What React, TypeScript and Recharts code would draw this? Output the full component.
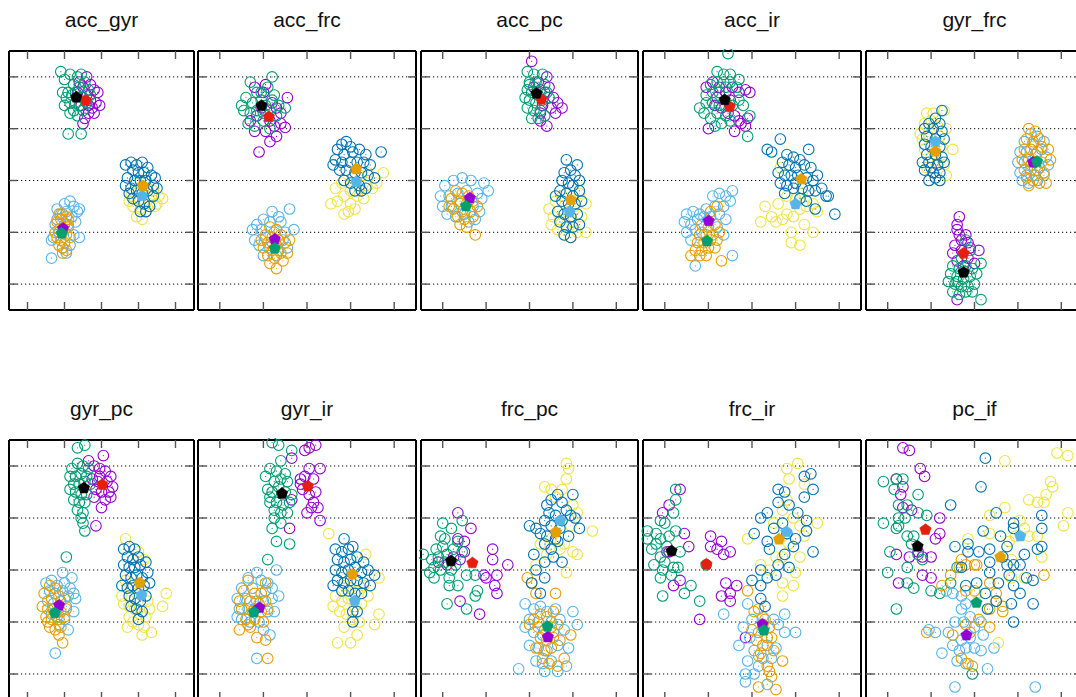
import React from 'react';
import { ScatterChart, Scatter, XAxis, YAxis, CartesianGrid } from 'recharts';

const TICKS = [10, 30, 50, 70, 90];
const TITLES = ['acc_gyr', 'acc_frc', 'acc_pc', 'acc_ir', 'gyr_frc', 'gyr_pc', 'gyr_ir', 'frc_pc', 'frc_ir', 'pc_if'];
const POINT_COLORS = ['#9400d3', '#009e73', '#56b4e9', '#e69f00', '#f0e442', '#0072b2'];
const CENTROID_COLORS = ['#e51e10', '#000000', '#9400d3', '#009e73', '#56b4e9', '#e69f00'];

// ---------- panel 1: acc_gyr ----------
const p1A = [[38,88],[42,90],[44,87],[46,85],[48,84],[47,80],[49,79],[45,78],[43,76],[41,74],[40,72],[39,79],[42,83],[44,81],[46,76],[37,84],[40,86],[43,79]];
const p1B = [[28,92],[30,89],[33,91],[37,90],[39,91],[35,87],[38,86],[41,88],[43,85],[32,84],[34,83],[36,80],[33,80],[31,82],[30,79],[38,79],[40,82],[35,77],[37,75],[33,76],[40,77],[42,80],[32,68],[39,68],[36,84],[44,83],[29,84]];
const p1C = [[30,41],[33,42],[35,40],[37,38],[38,39],[31,38],[28,37],[26,35],[25,33],[27,30],[24,28],[23,27],[34,36],[36,34],[32,33],[29,24],[31,22],[33,25],[23,20],[35,29],[26,39],[38,28]];
const p1D = [[27,37],[29,37],[31,36],[28,35],[26,34],[30,33],[32,32],[27,31],[29,30],[31,29],[26,28],[28,27],[30,26],[27,25],[29,24],[31,23],[33,28],[25,30],[32,35],[29,22]];
const p1E = [[68,49],[72,48],[75,47],[78,46],[81,44],[83,43],[66,44],[68,43],[70,42],[73,42],[76,41],[79,40],[65,42],[67,40],[71,39],[74,38],[72,35],[69,36],[77,44],[80,41]];
const p1F = [[63,56],[66,57],[69,56],[72,57],[75,55],[67,54],[70,53],[73,53],[77,52],[79,51],[64,51],[68,50],[71,50],[74,50],[78,48],[63,48],[66,47],[69,46],[72,45],[75,46],[78,44],[67,43],[70,42],[73,41],[76,40],[71,38],[74,38],[65,45],[80,47]];
const p1Cent = [[41.4,81],[36.4,82.1],[29.2,31.5],[28.5,29.6],[72,44.1],[72.4,47.9]];

// ---------- panel 2: acc_frc ----------
const p2A = [[26,86],[31,87],[30,84],[41,82],[34,80],[36,78],[38,76],[29,78],[27,75],[33,73],[35,71],[40,70.5],[31,69],[26,69],[36,67],[33,65],[28,61],[24,73],[38,72]];
const p2B = [[24,88],[34,90],[32,86],[27,84],[22,82],[25,80],[29,81],[31,79],[34,81],[37,79],[40,78],[21,77],[24,76],[27,77],[30,76],[33,77],[36,75],[23,72],[26,71],[30,73],[33,70],[29,84],[35,83],[20,79]];
const p2C = [[34,38],[37,36],[42,39],[30,35],[27,33],[33,34],[38,34],[44,31],[25,31],[29,31],[35,30],[40,30],[26,27],[31,28],[39,27],[28,25],[33,24],[37,23],[41,24],[30,21],[36,21]];
const p2D = [[33,32],[36,31],[31,29],[34,28],[38,29],[29,27],[32,26],[36,25],[40,26],[42,27],[30,24],[34,23],[38,22],[32,21],[35,20],[39,19],[33,18],[36,16],[37,27],[41,22]];
const p2E = [[61,41],[64,42],[67,37],[69,38],[72,39],[67,44],[70,46],[74,47],[77,48],[80,47],[82,49],[85,53],[66,49],[71,51],[75,52],[78,53],[63,47],[73,44],[76,43],[70,41]];
const p2F = [[66,64],[68,65],[70,63],[64,62],[67,60],[71,61],[74,62],[77,60],[84,61],[63,58],[66,57],[70,57],[73,57],[76,57],[79,56],[65,54],[68,54],[72,53],[75,53],[78,52],[81,51],[67,50],[70,49],[74,48],[77,47],[72,46],[75,46],[62,56]];
const p2Cent = [[32.5,74.6],[29.1,78.9],[35.2,27.3],[35.2,23.8],[72.6,49.5],[72.6,54.4]];

// ---------- panel 3: acc_pc ----------
const p3A = [[51,96],[60,78],[65,78],[55,73],[58,71],[62,76],[57,84],[59,86],[54,88],[61,82],[56,79],[52,86],[58,90],[63,80],[55,76]];
const p3B = [[49,92],[52,91],[56,91],[50,88],[53,88],[57,87],[49,85],[51,84],[55,85],[58,84],[50,81],[53,80],[56,81],[59,82],[49,78],[52,77],[55,77],[51,74],[54,74],[57,75],[50,87],[54,83],[48,82]];
const p3C = [[11,48],[15,50],[19,51],[23,50],[29,49],[31,46],[9,44],[13,44],[17,45],[21,46],[26,45],[28,43],[10,40],[14,40],[18,41],[24,40],[27,38],[12,37],[16,36],[20,37],[25,35],[22,34]];
const p3D = [[16,46],[19,45],[22,44],[14,43],[18,42],[21,41],[24,42],[15,39],[19,38],[23,38],[17,36],[20,35],[24,36],[18,33],[21,32],[25,29],[13,40],[26,40]];
const p3E = [[59,39],[62,42],[65,44],[73,45],[76,41],[61,36],[64,35],[67,33],[70,34],[74,36],[76,30],[63,31],[66,29],[69,28],[72,30],[68,38],[71,40],[60,33]];
const p3F = [[67,58],[72,56],[66,53],[69,54],[71,52],[65,50],[68,49],[70,48],[73,50],[64,46],[67,45],[70,44],[73,46],[65,42],[68,41],[71,41],[74,42],[63,38],[66,37],[69,36],[72,37],[64,34],[67,32],[70,32],[66,29],[69,28],[73,33],[62,44]];
const p3Cent = [[55.5,81.3],[53.2,83.6],[22.5,43.2],[20.7,40.1],[68.5,38],[69,42.5]];

// ---------- panel 4: acc_ir ----------
const p4A = [[29,86],[32,88],[35,86],[38,84],[41,86],[44,84],[47,85],[49,84],[30,70],[33,79],[36,78],[39,76],[42,75],[44,73],[47,71],[42,69],[45,72],[48,74],[40,81],[34,82]];
const p4B = [[39,99],[34,92],[37,91],[40,91],[44,89],[31,87],[34,88],[37,88],[40,88],[43,86],[29,83],[32,84],[35,84],[38,86],[26,78],[29,80],[32,80],[35,79],[41,79],[44,81],[46,79],[28,76],[31,74],[34,76],[36,72],[38,75],[49,75],[48,67],[33,71],[40,73]];
const p4C = [[41,46],[32,44],[35,45],[38,44],[40,42],[20,37],[23,38],[26,37],[29,39],[33,40],[37,40],[19,34],[22,33],[25,35],[28,36],[31,36],[35,37],[38,35],[20,30],[24,31],[27,30],[34,32],[41,21],[24,17],[22,27],[37,29]];
const p4D = [[34,40],[31,38],[27,33],[30,32],[33,33],[26,29],[29,29],[32,29],[35,30],[25,26],[28,26],[31,27],[34,27],[24,23],[27,23],[30,24],[33,24],[22,21],[26,21],[29,21],[36,19]];
const p4E = [[63,55],[56,40],[54,34],[62,41],[68,30],[72,25],[68,26],[78,30],[59,36],[61,34],[64,35],[66,37],[69,36],[72,39],[75,40],[78,41],[80,38],[70,43],[73,45],[76,46],[66,44],[74,33]];
const p4F = [[63,66],[57,62],[59,61],[76,62],[66,60],[69,59],[72,58],[64,57],[67,56],[70,55],[74,56],[77,55],[62,53],[65,52],[68,52],[71,52],[75,51],[78,50],[80,52],[63,49],[66,48],[69,47],[73,47],[76,46],[79,46],[82,47],[84,44],[72,43],[75,42],[79,39],[85,44],[88,37],[65,45],[70,49]];
const p4Cent = [[39.8,78.5],[37.5,81.1],[30.1,34.4],[29.4,26.6],[70,40.9],[72.6,50.5]];

// ---------- panel 5: gyr_frc ----------
const p5A = [[43,36],[42,33],[42,31],[43,29],[44,27],[41,25],[47,26],[52,23],[40,22],[44,23],[47,20],[50,18],[42,19],[45,17],[42,4],[48,24],[46,29]];
const p5B = [[46,27],[48,23],[44,20],[53,18],[40,17],[43,16],[46,17],[49,16],[39,14],[42,13],[45,12],[48,13],[51,14],[38,11],[41,10],[44,9],[47,9],[50,10],[40,7],[43,6],[46,7],[49,7],[53,4],[45,15],[42,11]];
const p5C = [[76,68],[79,67],[82,65],[73,65],[77,64],[81,62],[71,61],[74,61],[78,60],[83,59],[70,57],[73,57],[76,56],[80,55],[84,56],[71,53],[74,52],[78,52],[82,52],[75,49],[79,50],[72,50]];
const p5D = [[75,70],[78,69],[80,66],[74,66],[77,65],[81,63],[73,62],[76,62],[79,61],[84,62],[72,58],[75,58],[78,57],[81,57],[85,58],[73,54],[76,54],[79,54],[82,53],[74,51],[77,50],[80,49],[75,48],[83,49]];
const p5E = [[36,77],[28,76],[31,76],[25,68],[37,70],[40,62],[37,52],[27,72],[30,73],[33,71],[26,66],[29,67],[34,67],[27,62],[35,63],[30,59],[33,57],[28,55],[36,56],[31,53]];
const p5F = [[35,77],[32,74],[29,72],[34,72],[27,70],[31,70],[35,69],[28,67],[32,66],[36,66],[27,64],[30,63],[34,63],[28,60],[32,60],[35,59],[26,57],[29,57],[33,56],[36,57],[27,54],[31,53],[34,53],[29,50],[34,50],[30,55],[32,51]];
const p5Cent = [[45,21.9],[45,14.5],[77,57],[78.8,57.3],[32,65],[32,61.2]];

// ---------- panel 6: gyr_pc ----------
const p6A = [[51,94],[43,92],[46,90],[49,89],[52,88],[55,86],[45,85],[48,84],[53,84],[56,82],[47,81],[50,80],[54,80],[55,78],[46,78],[52,77],[50,74],[47,67],[49,86]];
const p6B = [[37,97],[41,98],[34,89],[37,91],[40,90],[43,89],[33,86],[36,86],[39,87],[42,86],[35,83],[38,83],[41,84],[44,83],[33,81],[36,80],[39,79],[42,79],[35,77],[38,76],[41,76],[37,73],[40,72],[39,70],[40,68],[41,65],[31,55]];
const p6C = [[29,49],[34,47],[20,45],[23,46],[26,44],[30,45],[33,43],[22,42],[25,41],[29,42],[32,40],[35,41],[21,38],[24,37],[28,38],[31,36],[35,34],[23,33],[26,32],[30,31],[32,27],[25,18],[36,39],[27,29]];
const p6D = [[22,44],[25,43],[19,41],[23,39],[27,40],[30,39],[18,36],[21,35],[24,35],[28,34],[31,35],[20,32],[23,31],[27,31],[30,32],[22,28],[25,27],[28,28],[27,25],[29,22],[21,30]];
const p6E = [[63,62],[70,57],[73,54],[85,41],[83,36],[77,26],[72,25],[64,28],[63,46],[66,43],[69,41],[72,42],[75,38],[62,37],[65,36],[68,35],[71,33],[74,32],[67,30],[70,29],[73,28],[76,35],[61,40],[65,32]];
const p6F = [[62,58],[65,59],[68,58],[64,55],[67,54],[70,55],[62,52],[65,51],[68,51],[71,52],[74,53],[63,48],[66,47],[69,48],[72,47],[75,49],[61,44],[64,43],[67,44],[70,43],[73,44],[76,45],[65,40],[68,39],[71,38],[74,40],[66,36],[69,35],[72,34],[70,31]];
const p6Cent = [[50.4,82.8],[40.5,81.5],[27.1,36.4],[24.8,33.5],[71.6,40.3],[70.7,45]];

// ---------- panel 7: gyr_ir ----------
const p7A = [[49,96],[51,97],[54,98],[43,93],[51,89],[56,89],[47,85],[49,86],[53,85],[54,80],[51,79],[48,81],[53,76],[55,74],[52,74],[50,72],[56,69],[42,66],[43,77],[47,83]];
const p7B = [[34,99],[37,98],[43,96],[38,92],[31,86],[40,87],[33,89],[36,88],[35,84],[38,85],[41,84],[32,81],[34,80],[37,82],[40,80],[43,79],[33,76],[36,76],[39,75],[42,76],[35,73],[38,72],[35,70],[38,68],[34,66],[36,61],[42,60],[32,54],[33,78],[41,72]];
const p7C = [[27,49],[36,50],[37,40],[23,47],[29,46],[32,45],[20,43],[25,43],[31,42],[34,43],[18,39],[22,39],[27,38],[30,38],[34,39],[19,35],[23,35],[26,35],[32,34],[35,34],[20,31],[24,30],[28,30],[33,25],[27,16],[18,32],[30,27]];
const p7D = [[23,46],[31,45],[21,42],[26,41],[29,41],[19,38],[24,38],[28,37],[31,38],[20,35],[25,34],[29,34],[32,35],[22,31],[26,31],[30,30],[19,27],[24,28],[27,24],[31,23],[32,16],[23,29]];
const p7E = [[60,64],[77,56],[83,47],[83,33],[81,29],[64,22],[70,22],[73,25],[64,46],[67,44],[70,43],[73,42],[76,44],[63,40],[66,38],[69,39],[72,36],[75,37],[78,40],[65,34],[68,33],[71,31],[74,30],[67,28],[62,36]];
const p7F = [[67,62],[63,58],[66,57],[69,58],[71,59],[64,54],[67,53],[70,54],[73,55],[76,53],[63,50],[66,49],[69,50],[72,51],[75,49],[78,50],[81,48],[64,46],[67,45],[70,46],[73,46],[76,45],[79,44],[66,42],[69,42],[72,41],[75,41],[71,34],[73,34],[71,30],[62,44]];
const p7Cent = [[50.4,82.2],[38.5,79.4],[28.2,35.5],[25.6,33.8],[71.9,38.1],[70.8,48.3]];

// ---------- panel 8: frc_pc ----------
const p8A = [[17,72],[23,66],[17,62],[20,61],[20,57],[8,53],[18,54],[33,58],[33,54],[40,52],[29,48],[30,47],[35,48],[34,44],[35,41],[18,38],[27,33],[12,52],[15,55]];
const p8B = [[1,56],[10,68],[19,69],[9,63],[14,66],[7,58],[19,57],[10,59],[12,56],[15,58],[5,54],[8,55],[11,53],[16,52],[6,51],[9,50],[14,50],[4,49],[6,47],[13,47],[13,44],[17,44],[21,48],[25,48],[26,42],[25,40],[12,37],[21,35],[17,61],[11,62]];
const p8C = [[45,12],[48,37],[70,34],[72,29],[68,20],[63,11],[57,11],[67,13],[52,35],[55,36],[58,34],[62,35],[50,31],[54,30],[60,30],[64,31],[52,26],[56,25],[61,26],[66,27],[50,21],[54,20],[58,19],[63,21],[53,15],[56,14],[60,15],[48,28]];
const p8D = [[49,47],[51,45],[53,41],[62,41],[69,25],[66,16],[63,13],[52,31],[50,29],[55,33],[58,32],[61,34],[54,28],[57,27],[60,28],[63,29],[55,24],[58,23],[61,24],[64,23],[53,20],[57,19],[60,20],[56,16],[59,14]];
const p8E = [[67,91],[68,89],[67,85],[57,82],[60,81],[65,81],[79,65],[70,57],[72,56],[67,49],[55,60],[53,52],[62,78],[70,75],[72,72],[60,62],[66,60],[58,56],[64,58],[69,67]];
const p8F = [[50,67],[53,66],[58,75],[63,79],[70,79],[71,70],[73,66],[68,63],[57,60],[52,56],[61,55],[57,53],[65,53],[57,47],[55,41],[51,45],[53,50],[60,77],[65,76],[67,73],[59,72],[62,71],[65,69],[69,71],[57,69],[60,67],[64,66],[58,63],[62,62],[55,64],[60,58],[63,61]];
const p8Cent = [[23.7,52.7],[13.8,53.5],[58.5,24.2],[58.3,28.3],[64.2,69.1],[62.2,64.6]];

// ---------- panel 9: frc_ir ----------
const p9A = [[17,81],[12,75],[9,72],[19,64],[21,59],[12,57],[31,63],[36,61],[31,59],[34,58],[37,56],[40,57],[17,46],[14,44],[38,45],[43,44],[36,40],[40,41],[40,38],[26,31],[47,24],[11,57]];
const p9B = [[15,81],[15,77],[14,72],[8,69],[10,68],[2,65],[2,62],[6,64],[8,62],[12,63],[15,65],[6,60],[11,59],[17,57],[8,55],[5,52],[9,50],[8,47],[13,48],[14,51],[16,51],[9,40],[19,41],[22,44],[26,38],[29,52],[4,58],[10,53]];
const p9C = [[37,33],[48,37],[46,28],[44,21],[65,33],[70,26],[65,26],[47,10],[47,7],[51,10],[57,6],[53,26],[50,31],[55,32],[60,31],[62,29],[49,24],[57,21],[61,20],[51,19],[55,16],[59,16],[53,13],[48,15]];
const p9D = [[48,42],[51,34],[53,35],[52,23],[57,24],[59,24],[54,18],[53,17],[57,13],[64,15],[59,9],[53,5],[61,4],[55,29],[58,28],[56,31],[50,27],[60,19],[55,21],[58,11]];
const p9E = [[71,91],[66,89],[67,85],[74,83],[66,77],[64,73],[80,68],[74,63],[48,62],[61,55],[64,55],[72,55],[64,45],[69,44],[64,40],[54,52],[69,70],[72,67],[60,68],[67,60],[58,50],[70,49]];
const p9F = [[74,86],[77,87],[74,78],[78,81],[62,81],[65,80],[62,76],[67,75],[71,72],[57,72],[54,70],[75,69],[75,65],[51,64],[57,61],[69,59],[78,57],[54,50],[57,47],[61,48],[67,51],[50,46],[54,44],[54,39],[56,36],[60,66],[64,68],[66,64],[58,58],[62,52],[65,56],[70,62]];
const p9Cent = [[29.1,52.2],[13.1,57.3],[54.8,29.1],[55.4,26.8],[65.8,64.7],[62.4,61.8]];

// ---------- panel 10: pc_if ----------
const p10A = [[17,97],[20,96],[25,89],[27,86],[14,85],[17,82],[16,79],[17,74],[21,73],[34,70],[34,64],[32,62],[14,56],[26,55],[30,55],[26,48],[30,47],[15,45],[24,57],[20,55]];
const p10B = [[8,84],[14,85],[17,85],[13,81],[24,79],[15,75],[19,75],[15,70],[18,70],[28,71],[24,72],[8,68],[14,66],[15,67],[19,63],[22,63],[21,60],[11,57],[24,56],[26,54],[19,51],[10,49],[19,45],[22,43],[30,42],[34,41],[14,35],[39,45],[42,51],[49,10]];
const p10C = [[37,42],[40,41],[44,40],[46,37],[44,35],[41,30],[45,30],[50,28],[53,30],[54,25],[48,24],[44,23],[40,21],[43,19],[46,20],[50,20],[53,19],[59,20],[35,18],[29,27],[32,26],[56,12],[41,5],[78,5],[42,15],[46,14],[48,32],[38,26]];
const p10D = [[44,54],[46,52],[50,52],[51,52],[43,51],[39,48],[35,44],[46,42],[50,42],[57,45],[60,41],[60,38],[63,36],[63,34],[57,35],[52,31],[57,28],[46,29],[48,26],[40,25],[28,26],[82,48],[47,14],[49,13],[44,16]];
const p10E = [[64,92],[88,95],[93,94],[85,84],[86,82],[83,79],[82,76],[75,77],[79,76],[93,72],[91,67],[64,74],[57,71],[71,69],[73,66],[75,63],[79,63],[69,63],[66,61],[57,64],[47,62],[81,55],[67,54],[67,47],[73,47],[61,22],[51,41]];
const p10F = [[55,93],[53,82],[39,75],[60,72],[81,71],[68,68],[68,66],[54,65],[62,63],[65,59],[81,66],[81,59],[79,58],[41,59],[47,60],[47,57],[52,57],[57,58],[57,53],[65,52],[68,52],[71,52],[73,56],[44,51],[57,49],[61,45],[74,47],[77,46],[68,44],[71,41],[77,37],[67,37],[60,38],[56,35],[51,45],[55,41],[68,30],[46,44],[63,55],[66,48]];
const p10Cent = [[27.4,65.5],[23.8,59.1],[46.3,24.9],[50.9,37.4],[71.1,63],[61.9,55]];

const PANEL_SERIES = [
  [p1A, p1B, p1C, p1D, p1E, p1F],
  [p2A, p2B, p2C, p2D, p2E, p2F],
  [p3A, p3B, p3C, p3D, p3E, p3F],
  [p4A, p4B, p4C, p4D, p4E, p4F],
  [p5A, p5B, p5C, p5D, p5E, p5F],
  [p6A, p6B, p6C, p6D, p6E, p6F],
  [p7A, p7B, p7C, p7D, p7E, p7F],
  [p8A, p8B, p8C, p8D, p8E, p8F],
  [p9A, p9B, p9C, p9D, p9E, p9F],
  [p10A, p10B, p10C, p10D, p10E, p10F],
];
const PANEL_CENTROIDS = [p1Cent, p2Cent, p3Cent, p4Cent, p5Cent, p6Cent, p7Cent, p8Cent, p9Cent, p10Cent];

// layout (pixels)
const COL_LEFT = [9, 198, 421, 643, 866];
const COL_WIDTH = [185, 218, 217, 218, 217];
const ROW_TOP = [51, 440];
const ROW_HEIGHT = [259, 260];

const toObjs = (arr: number[][]) => arr.map(([x, y]) => ({ x, y }));

const makeRing = (color: string) => (props: any) => {
  const { cx, cy } = props;
  if (cx == null || cy == null) return <g />;
  return (
    <g>
      <circle cx={cx} cy={cy} r={5.3} fill="none" stroke={color} strokeWidth={1.1} />
      <circle cx={cx} cy={cy} r={0.6} fill={color} />
    </g>
  );
};

const makePentagon = (color: string) => (props: any) => {
  const { cx, cy } = props;
  if (cx == null || cy == null) return <g />;
  const r = 6;
  const pts: string[] = [];
  for (let k = 0; k < 5; k++) {
    const a = (-90 + k * 72) * Math.PI / 180;
    pts.push(`${cx + r * Math.cos(a)},${cy + r * Math.sin(a)}`);
  }
  return <polygon points={pts.join(' ')} fill={color} stroke={color} strokeWidth={0.5} />;
};

const RINGS = POINT_COLORS.map(makeRing);
const PENTS = CENTROID_COLORS.map(makePentagon);

const emptyTick = () => <g />;
const tickLineStyle = { stroke: '#555', strokeWidth: 1.4 };
const axisLineStyle = { stroke: '#000', strokeWidth: 2 };

function Panel({ idx }: { idx: number }) {
  const col = idx % 5;
  const row = Math.floor(idx / 5);
  const L = COL_LEFT[col];
  const W = COL_WIDTH[col];
  const T = ROW_TOP[row];
  const H = ROW_HEIGHT[row];
  const series = PANEL_SERIES[idx];
  const cents = PANEL_CENTROIDS[idx];
  return (
    <>
      <div
        style={{
          position: 'absolute',
          left: L,
          width: W,
          top: T - 42,
          textAlign: 'center',
          fontSize: 21,
          lineHeight: '21px',
          color: '#111',
          whiteSpace: 'nowrap',
        }}
      >
        {TITLES[idx]}
      </div>
      <div style={{ position: 'absolute', left: L - 2, top: T - 2 }}>
        <ScatterChart width={W + 4} height={H + 4} margin={{ top: 2, right: 2, bottom: 2, left: 2 }}>
          <CartesianGrid vertical={false} stroke="#000" strokeDasharray="1.2 2.8" strokeWidth={1} />
          <XAxis xAxisId={0} type="number" dataKey="x" domain={[0, 100]} ticks={TICKS} interval={0}
            orientation="bottom" mirror tick={emptyTick} tickSize={8} tickLine={tickLineStyle} axisLine={axisLineStyle} height={20} />
          <XAxis xAxisId="t" type="number" dataKey="x" domain={[0, 100]} ticks={TICKS} interval={0}
            orientation="top" mirror tick={emptyTick} tickSize={8} tickLine={tickLineStyle} axisLine={axisLineStyle} height={20} />
          <YAxis yAxisId={0} type="number" dataKey="y" domain={[0, 100]} ticks={TICKS} interval={0}
            orientation="left" mirror tick={emptyTick} tickSize={8} tickLine={tickLineStyle} axisLine={axisLineStyle} width={20} />
          <YAxis yAxisId="r" type="number" dataKey="y" domain={[0, 100]} ticks={TICKS} interval={0}
            orientation="right" mirror tick={emptyTick} tickSize={8} tickLine={tickLineStyle} axisLine={axisLineStyle} width={20} />
          {series.map((s, i) => (
            <Scatter key={'s' + i} data={toObjs(s)} shape={RINGS[i]} isAnimationActive={false} />
          ))}
          {cents.map((c, i) => (
            <Scatter key={'c' + i} xAxisId="t" yAxisId="r" data={toObjs([c])} shape={PENTS[i]} isAnimationActive={false} />
          ))}
        </ScatterChart>
      </div>
    </>
  );
}

export default function App() {
  return (
    <div
      style={{
        position: 'absolute',
        left: 0,
        top: 0,
        width: 1076,
        height: 697,
        overflow: 'hidden',
        background: '#fff',
        fontFamily: '"Liberation Sans", Arial, Helvetica, sans-serif',
      }}
    >
      {TITLES.map((_, i) => (
        <Panel key={i} idx={i} />
      ))}
    </div>
  );
}
